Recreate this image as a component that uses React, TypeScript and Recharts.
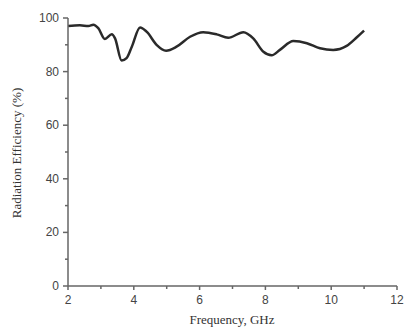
import React from 'react';
import { LineChart, Line, XAxis, YAxis } from 'recharts';

// efficiency curve
const freqGHz = [2.0, 2.36, 2.62, 2.77, 2.92, 3.12, 3.33, 3.43, 3.63, 3.78, 3.94, 4.19, 4.39, 4.7, 4.98, 5.3, 5.71, 6.11, 6.52, 6.87, 7.33, 7.63, 7.94, 8.19, 8.44, 8.85, 9.26, 9.66, 10.06, 10.47, 10.78, 11.0];
const efficiency = [97, 97.3, 97, 97.5, 96.2, 92.2, 93.9, 92.4, 84.1, 85, 89.3, 96.5, 94.9, 89.9, 87.8, 89.3, 93, 94.7, 93.9, 92.6, 94.7, 92.4, 87.4, 86.1, 88.1, 91.4, 90.6, 88.7, 88.1, 89.6, 92.8, 95.3];

const xTicks = [2, 3, 4, 5, 6, 7, 8, 9, 10, 11, 12];
const yTicks = [0, 10, 20, 30, 40, 50, 60, 70, 80, 90, 100];

const axisColor = '#666';
const labelColor = '#444';
const tickFont = '"Liberation Sans", Arial, sans-serif';
const titleFont = '"Liberation Serif", "Times New Roman", serif';

const data = freqGHz.map((f, i) => ({ f, eff: efficiency[i] }));

const XTick = (props: any) => {
  const { x, y, payload } = props;
  const major = payload.value % 2 === 0;
  return (
    <g>
      <line x1={x} x2={x} y1={y} y2={y + (major ? 4 : 3)} stroke={axisColor} strokeWidth={1.5} />
      {major && (
        <text x={x} y={y + 18} textAnchor="middle" fill={labelColor} fontSize={12} fontFamily={tickFont}>
          {payload.value}
        </text>
      )}
    </g>
  );
};

const YTick = (props: any) => {
  const { x, y, payload } = props;
  const major = payload.value % 20 === 0;
  return (
    <g>
      <line x1={x} x2={x - (major ? 5 : 3)} y1={y} y2={y} stroke={axisColor} strokeWidth={1.5} />
      {major && (
        <text x={x - 9} y={y + 4} textAnchor="end" fill={labelColor} fontSize={12} fontFamily={tickFont}>
          {payload.value}
        </text>
      )}
    </g>
  );
};

export default function App() {
  return (
    <div style={{ position: 'absolute', top: 0, left: 0, background: '#fff' }}>
      <LineChart width={404} height={327} data={data} margin={{ top: 18, right: 7, bottom: 0, left: 0 }}>
        <XAxis
          dataKey="f"
          type="number"
          domain={[2, 12]}
          ticks={xTicks}
          interval={0}
          height={41}
          tickSize={0}
          tickMargin={0}
          tickLine={false}
          tick={<XTick />}
          stroke={axisColor}
          strokeWidth={1.5}
          allowDataOverflow
        />
        <YAxis
          type="number"
          domain={[0, 100]}
          ticks={yTicks}
          interval={0}
          width={68}
          tickSize={0}
          tickMargin={0}
          tickLine={false}
          tick={<YTick />}
          stroke={axisColor}
          strokeWidth={1.5}
        />
        <Line
          type="monotone"
          dataKey="eff"
          stroke="#2a2a2a"
          strokeWidth={2.5}
          dot={false}
          isAnimationActive={false}
        />
        <text x={232} y={324} textAnchor="middle" fill="#333" fontSize={13} fontFamily={titleFont}>
          Frequency, GHz
        </text>
        <text
          x={21}
          y={153}
          textAnchor="middle"
          fill="#333"
          fontSize={13}
          fontFamily={titleFont}
          transform="rotate(-90 21 153)"
        >
          Radiation Efficiency (%)
        </text>
      </LineChart>
    </div>
  );
}
